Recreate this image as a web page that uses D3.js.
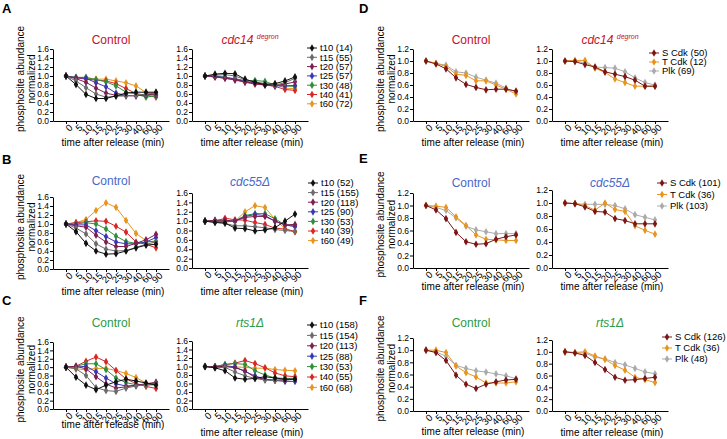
<!DOCTYPE html>
<html lang="en">
<head>
<meta charset="utf-8">
<script src="https://cdn.jsdelivr.net/npm/d3@7"></script>
<style>
  body { margin: 0; background: #fff; }
  svg { display: block; font-family: "Liberation Sans", Arial, sans-serif; }
  .axis path, .axis line { stroke: #000; stroke-width: 1px; }
  .axis text { fill: #000; font-family: "Liberation Sans", Arial, sans-serif; }
  .yax text { font-size: 8.5px; }
  .xax text { font-size: 9.5px; }
  .lbl { font-size: 10px; fill: #000; }
  .leg { font-size: 9.5px; fill: #000; }
</style>
</head>
<body>
<svg width="727" height="439"></svg>
<script>
var timeLabels = ["0","5","10","15","20","25","30","40","60","90"];
var timePoints = ["t10","t15","t20","t25","t30","t40","t60"];
var kinases = ["S Cdk","T Cdk","Plk"];

var timeColors = ["#111111","#6b6b6b","#7d1f4f","#3838b8","#2f8f3a","#d92626","#e8951f"];
var kinaseColors = ["#7b1616","#e8951f","#ababab"];

var countsA = [14,55,57,57,48,41,72];
var countsB = [52,155,118,90,53,39,49];
var countsC = [158,154,113,88,53,55,68];
var countsD = [50,12,69];
var countsE = [101,36,103];
var countsF = [126,36,48];

// A: control vs cdc14-degron
var aControl = [
  [1.0,0.81,0.59,0.50,0.50,0.56,0.62,0.64,0.64,0.64],
  [1.0,0.89,0.74,0.60,0.53,0.55,0.56,0.57,0.60,0.62],
  [1.0,0.94,0.86,0.73,0.62,0.57,0.56,0.56,0.58,0.60],
  [1.0,0.96,0.95,0.85,0.76,0.62,0.57,0.56,0.58,0.58],
  [1.0,0.97,0.97,0.92,0.87,0.78,0.64,0.60,0.53,0.56],
  [1.0,0.96,0.93,0.91,0.89,0.83,0.72,0.61,0.57,0.53],
  [1.0,0.97,0.96,0.93,0.93,0.89,0.85,0.78,0.63,0.62]
];
var aMutant = [
  [1.0,1.04,1.06,1.05,0.93,0.86,0.81,0.83,0.89,0.98],
  [1.0,1.02,1.03,1.00,0.92,0.87,0.83,0.80,0.85,0.95],
  [1.0,0.98,0.95,0.92,0.87,0.83,0.80,0.79,0.82,0.87],
  [1.0,0.99,0.97,0.93,0.88,0.85,0.80,0.78,0.78,0.79],
  [1.0,1.00,0.97,0.94,0.90,0.90,0.88,0.80,0.78,0.77],
  [1.0,0.98,0.95,0.91,0.86,0.82,0.80,0.77,0.70,0.68],
  [1.0,0.98,0.96,0.93,0.88,0.85,0.82,0.82,0.73,0.72]
];

// B: control vs cdc55 deletion
var bControl = [
  [1.0,0.83,0.57,0.40,0.33,0.34,0.40,0.47,0.53,0.55],
  [1.0,0.91,0.78,0.56,0.44,0.40,0.41,0.48,0.55,0.60],
  [1.0,0.96,0.93,0.75,0.60,0.50,0.50,0.57,0.65,0.77],
  [1.0,0.98,0.98,0.85,0.72,0.60,0.56,0.56,0.60,0.70],
  [1.0,1.00,1.03,1.00,0.89,0.73,0.61,0.57,0.60,0.62],
  [1.0,1.03,1.05,1.07,1.06,0.95,0.82,0.60,0.55,0.47],
  [1.0,1.03,1.10,1.30,1.47,1.37,1.08,0.79,0.63,0.58]
];
var bMutant = [
  [1.0,0.97,0.96,0.85,0.84,0.79,0.81,0.86,1.00,1.15],
  [1.0,0.98,0.95,0.90,0.90,0.88,0.86,0.82,0.80,0.78],
  [1.0,1.02,1.02,1.00,1.08,1.10,1.10,1.00,0.92,0.93],
  [1.0,1.00,1.00,1.00,1.10,1.14,1.12,1.00,0.92,0.88],
  [1.0,1.00,1.00,1.00,1.12,1.16,1.16,1.05,0.92,0.90],
  [1.0,1.00,1.06,1.03,1.02,0.97,0.93,0.85,0.83,0.78],
  [1.0,0.98,0.98,1.00,1.20,1.33,1.29,1.04,0.84,0.77]
];

// C: control vs rts1 deletion
var cControl = [
  [1.0,0.76,0.57,0.46,0.57,0.65,0.71,0.67,0.62,0.57],
  [1.0,0.96,0.80,0.51,0.44,0.42,0.50,0.55,0.58,0.60],
  [1.0,1.02,0.96,0.77,0.60,0.50,0.53,0.57,0.60,0.64],
  [1.0,1.00,1.02,0.89,0.74,0.60,0.55,0.56,0.60,0.62],
  [1.0,1.02,1.08,1.08,0.94,0.74,0.63,0.58,0.57,0.58],
  [1.0,1.02,1.14,1.24,1.13,0.92,0.72,0.61,0.54,0.49],
  [1.0,0.96,0.94,0.97,0.97,0.92,0.85,0.75,0.62,0.60]
];
var cMutant = [
  [1.0,0.97,0.90,0.73,0.70,0.72,0.76,0.73,0.70,0.70],
  [1.0,0.97,0.98,0.87,0.78,0.72,0.68,0.67,0.70,0.70],
  [1.0,1.00,1.00,0.97,0.90,0.74,0.70,0.68,0.68,0.70],
  [1.0,0.98,1.02,0.99,0.88,0.78,0.70,0.67,0.65,0.65],
  [1.0,1.00,1.05,1.07,1.05,0.90,0.80,0.73,0.72,0.72],
  [1.0,1.00,1.04,1.08,1.14,1.07,0.97,0.85,0.78,0.76],
  [1.0,0.98,1.00,0.99,0.98,0.96,0.96,0.93,0.91,0.90]
];

// D-F: kinase motif groups
var dControl = [
  [1.0,0.95,0.87,0.72,0.61,0.56,0.52,0.53,0.53,0.50],
  [1.0,0.96,0.91,0.78,0.76,0.67,0.67,0.60,0.53,0.45],
  [1.0,0.96,0.93,0.82,0.80,0.73,0.68,0.63,0.55,0.48]
];
var dMutant = [
  [1.0,0.99,0.94,0.90,0.82,0.78,0.74,0.68,0.58,0.58],
  [1.0,1.01,1.01,0.88,0.81,0.70,0.64,0.58,0.58,0.58],
  [1.0,1.00,0.97,0.90,0.89,0.88,0.82,0.72,0.64,0.60]
];
var eControl = [
  [1.0,0.93,0.79,0.57,0.42,0.38,0.39,0.46,0.50,0.53],
  [1.0,0.99,0.97,0.82,0.68,0.53,0.46,0.45,0.44,0.44],
  [1.0,0.97,0.92,0.80,0.67,0.61,0.58,0.55,0.55,0.55]
];
var eMutant = [
  [1.0,0.99,0.94,0.87,0.86,0.76,0.73,0.68,0.68,0.68],
  [1.0,0.99,0.96,0.89,1.00,0.90,0.87,0.65,0.58,0.52],
  [1.0,0.99,0.98,0.98,0.98,0.96,0.91,0.82,0.78,0.74]
];
var fControl = [
  [1.0,0.96,0.83,0.59,0.44,0.37,0.44,0.48,0.51,0.52],
  [1.0,1.00,0.96,0.74,0.63,0.56,0.46,0.46,0.46,0.48],
  [1.0,0.97,0.90,0.75,0.70,0.66,0.64,0.61,0.58,0.53]
];
var fMutant = [
  [1.0,0.98,0.94,0.82,0.70,0.57,0.52,0.53,0.55,0.57],
  [1.0,0.99,1.00,0.93,0.87,0.77,0.69,0.57,0.53,0.48],
  [1.0,0.98,0.98,0.91,0.88,0.82,0.78,0.72,0.66,0.63]
];

var red = "#c8102e", blue = "#4a68c8", green = "#2e9a44";

var svg = d3.select("svg");

// panel letters
[["A",2,13],["B",2,164],["C",2,305],["D",359,13],["E",359,163],["F",359,305]].forEach(function (l) {
  svg.append("text").attr("x", l[1]).attr("y", l[2]).attr("font-size", 13)
    .attr("font-weight", "bold").text(l[0]);
});

function drawPanel(p) {
  var x = d3.scalePoint().domain(timeLabels).range([p.x0, p.x0 + 116]).padding(1.3);
  var y = d3.scaleLinear().domain([0, p.ymax]).range([p.bottom, p.top]);
  var g = svg.append("g");
  var nt = Math.round(p.ymax * 5);

  g.append("g").attr("class", "axis yax").attr("transform", "translate(" + p.x0 + ",0)")
    .call(d3.axisLeft(y).tickValues(d3.range(0, nt + 1).map(function (i) { return i * 0.2; }))
      .tickFormat(d3.format(".1f")).tickSize(3).tickSizeOuter(0).tickPadding(1));

  var xa = g.append("g").attr("class", "axis xax").attr("transform", "translate(0," + p.bottom + ")")
    .call(d3.axisBottom(x).tickSize(3).tickSizeOuter(0));
  xa.selectAll("text").attr("text-anchor", "end").attr("y", 0).attr("dy", "0.35em")
    .attr("transform", "translate(4.5,5) rotate(-45)");

  g.append("text").attr("class", "lbl").attr("text-anchor", "middle")
    .attr("x", p.x0 + 60).attr("y", p.xTitleY).text("time after release (min)");

  if (p.yLabel) {
    var cy = (p.top + p.bottom) / 2 - 6;
    g.append("text").attr("class", "lbl").attr("text-anchor", "middle")
      .attr("transform", "translate(" + (p.x0 - 29) + "," + cy + ") rotate(-90)").text("phosphosite abundance");
    g.append("text").attr("class", "lbl").attr("text-anchor", "middle")
      .attr("transform", "translate(" + (p.x0 - 18.5) + "," + cy + ") rotate(-90)").text("normalized");
  }

  // title
  var t = g.append("text").attr("text-anchor", "middle").attr("x", p.x0 + 58).attr("y", p.titleY)
    .attr("font-size", 12).attr("fill", p.color);
  if (p.title === "cdc14") {
    t.append("tspan").attr("font-style", "italic").text("cdc14 ");
    t.append("tspan").attr("font-style", "italic").attr("font-size", 7).attr("dy", -5).text("degron");
  } else if (p.title === "Control") {
    t.text("Control");
  } else {
    t.attr("font-style", "italic").text(p.title);
  }

  var line = d3.line().x(function (d, i) { return x(timeLabels[i]); }).y(function (d) { return y(d); });
  var sym = d3.symbol().type(d3.symbolDiamond).size(17);
  for (var k = p.data.length - 1; k >= 0; k--) {
    var s = g.append("g");
    s.append("path").datum(p.data[k]).attr("d", line).attr("fill", "none")
      .attr("stroke", p.colors[k]).attr("stroke-width", 1);
    s.selectAll("path.pt").data(p.data[k]).enter().append("path").attr("class", "pt")
      .attr("d", sym).attr("fill", p.colors[k])
      .attr("transform", function (d, i) { return "translate(" + x(timeLabels[i]) + "," + y(d) + ")"; });
  }
}

function drawLegend(names, counts, colors, lx, y0, step) {
  var sym = d3.symbol().type(d3.symbolDiamond).size(17);
  names.forEach(function (n, i) {
    var yy = y0 + i * step;
    svg.append("line").attr("x1", lx).attr("x2", lx + 10).attr("y1", yy).attr("y2", yy)
      .attr("stroke", colors[i]).attr("stroke-width", 1);
    svg.append("path").attr("d", sym).attr("fill", colors[i])
      .attr("transform", "translate(" + (lx + 5) + "," + yy + ")");
    svg.append("text").attr("class", "leg").attr("x", lx + 13).attr("y", yy).attr("dy", "0.35em")
      .text(n + " (" + counts[i] + ")");
  });
}

var panels = [
  {x0: 53, top: 49, bottom: 121, ymax: 1.6, data: aControl, colors: timeColors, title: "Control", color: red, titleY: 44, xTitleY: 146, yLabel: true},
  {x0: 192, top: 49, bottom: 121, ymax: 1.6, data: aMutant, colors: timeColors, title: "cdc14", color: red, titleY: 44, xTitleY: 146},
  {x0: 53, top: 197, bottom: 269, ymax: 1.6, data: bControl, colors: timeColors, title: "Control", color: blue, titleY: 185, xTitleY: 295, yLabel: true},
  {x0: 192, top: 193, bottom: 268, ymax: 1.6, data: bMutant, colors: timeColors, title: "cdc55\u0394", color: blue, titleY: 186, xTitleY: 295},
  {x0: 53, top: 342, bottom: 409, ymax: 1.6, data: cControl, colors: timeColors, title: "Control", color: green, titleY: 327, xTitleY: 428, yLabel: true},
  {x0: 192, top: 341, bottom: 409, ymax: 1.6, data: cMutant, colors: timeColors, title: "rts1\u0394", color: green, titleY: 327, xTitleY: 436},
  {x0: 413, top: 49, bottom: 121, ymax: 1.2, data: dControl, colors: kinaseColors, title: "Control", color: red, titleY: 44, xTitleY: 146, yLabel: true},
  {x0: 552, top: 49, bottom: 121, ymax: 1.2, data: dMutant, colors: kinaseColors, title: "cdc14", color: red, titleY: 44, xTitleY: 146},
  {x0: 413, top: 193, bottom: 268, ymax: 1.2, data: eControl, colors: kinaseColors, title: "Control", color: blue, titleY: 187, xTitleY: 290, yLabel: true},
  {x0: 552, top: 190, bottom: 268, ymax: 1.2, data: eMutant, colors: kinaseColors, title: "cdc55\u0394", color: blue, titleY: 187, xTitleY: 290},
  {x0: 413, top: 338, bottom: 411, ymax: 1.2, data: fControl, colors: kinaseColors, title: "Control", color: green, titleY: 327, xTitleY: 435, yLabel: true},
  {x0: 552, top: 340, bottom: 411, ymax: 1.2, data: fMutant, colors: kinaseColors, title: "rts1\u0394", color: green, titleY: 327, xTitleY: 436}
];
panels.forEach(drawPanel);

drawLegend(timePoints, countsA, timeColors, 307, 48, 9.3);
drawLegend(timePoints, countsB, timeColors, 308, 183, 9.6);
drawLegend(timePoints, countsC, timeColors, 307, 325, 10.4);
drawLegend(kinases, countsD, kinaseColors, 649, 53, 9);
drawLegend(kinases, countsE, kinaseColors, 657, 183, 11.5);
drawLegend(kinases, countsF, kinaseColors, 662, 337, 11);
</script>
</body>
</html>
